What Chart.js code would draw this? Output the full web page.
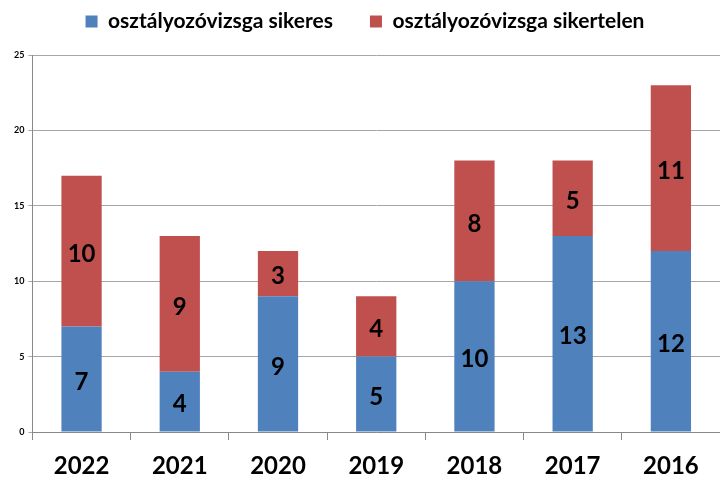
<!DOCTYPE html>
<html>
<head>
<meta charset="utf-8">
<script src="https://cdn.jsdelivr.net/npm/chart.js@4"></script>
<style>
  html, body { margin: 0; padding: 0; background: #fff; }
  #wrap { width: 720px; height: 479px; }
</style>
</head>
<body>
<div id="wrap"><canvas id="chart"></canvas></div>
<script>
const years = ['2022', '2021', '2020', '2019', '2018', '2017', '2016'];
const passed = [7, 4, 9, 5, 10, 13, 12];
const failed = [10, 9, 3, 4, 8, 5, 11];
const seriesNames = ['osztályozóvizsga sikeres', 'osztályozóvizsga sikertelen'];

const FONT = 'Lato, "Open Sans", sans-serif';

// Értékek az oszlopok közepére
const barLabels = {
    id: 'barLabels',
    afterDatasetsDraw(chart) {
        const ctx = chart.ctx;
        ctx.save();
        ctx.font = 'bold 24px ' + FONT;
        ctx.fillStyle = '#000';
        ctx.textAlign = 'center';
        ctx.textBaseline = 'middle';
        chart.data.datasets.forEach((ds, i) => {
            chart.getDatasetMeta(i).data.forEach((bar, j) => {
                const mid = (bar.y + bar.base) / 2;
                ctx.fillText(String(ds.data[j]), bar.x, mid + 3);
            });
        });
        ctx.restore();
    }
};

// jelmagyarázat magassága fix
const legendSpace = {
    id: 'legendSpace',
    beforeInit(chart) {
        const origFit = chart.legend.fit;
        chart.legend.fit = function () {
            origFit.call(this);
            this.height = 81;
        };
    }
};

new Chart(document.getElementById('chart'), {
    type: 'bar',
    data: {
        labels: years,
        datasets: [
            { label: seriesNames[0], data: passed, backgroundColor: '#4f81bd' },
            { label: seriesNames[1], data: failed, backgroundColor: '#c0504d' }
        ]
    },
    options: {
        responsive: true,
        maintainAspectRatio: false,
        animation: false,
        layout: { padding: { top: -26, right: 0, left: 10, bottom: 0 } },
        datasets: { bar: { barPercentage: 0.41, categoryPercentage: 1 } },
        plugins: {
            legend: {
                position: 'top',
                labels: {
                    boxWidth: 12, boxHeight: 12, padding: 37,
                    color: '#000',
                    font: { family: FONT, size: 21, weight: 'bold' }
                }
            },
            tooltip: { enabled: false }
        },
        scales: {
            x: {
                stacked: true,
                afterFit: axis => { axis.height = 47; },
                grid: { display: true, drawOnChartArea: false, offset: true, color: '#888', tickLength: 8 },
                border: { color: '#888', width: 1 },
                ticks: { color: '#000', padding: 12, font: { family: FONT, size: 24, weight: 'bold' } }
            },
            y: {
                stacked: true,
                min: 0, max: 25,
                ticks: { stepSize: 5, color: '#000', padding: 4, font: { family: FONT, size: 9, weight: 'bold' } },
                grid: { color: '#a6a6a6', tickLength: 4 },
                border: { color: '#888', width: 1 }
            }
        }
    },
    plugins: [barLabels, legendSpace]
});
</script>
</body>
</html>
